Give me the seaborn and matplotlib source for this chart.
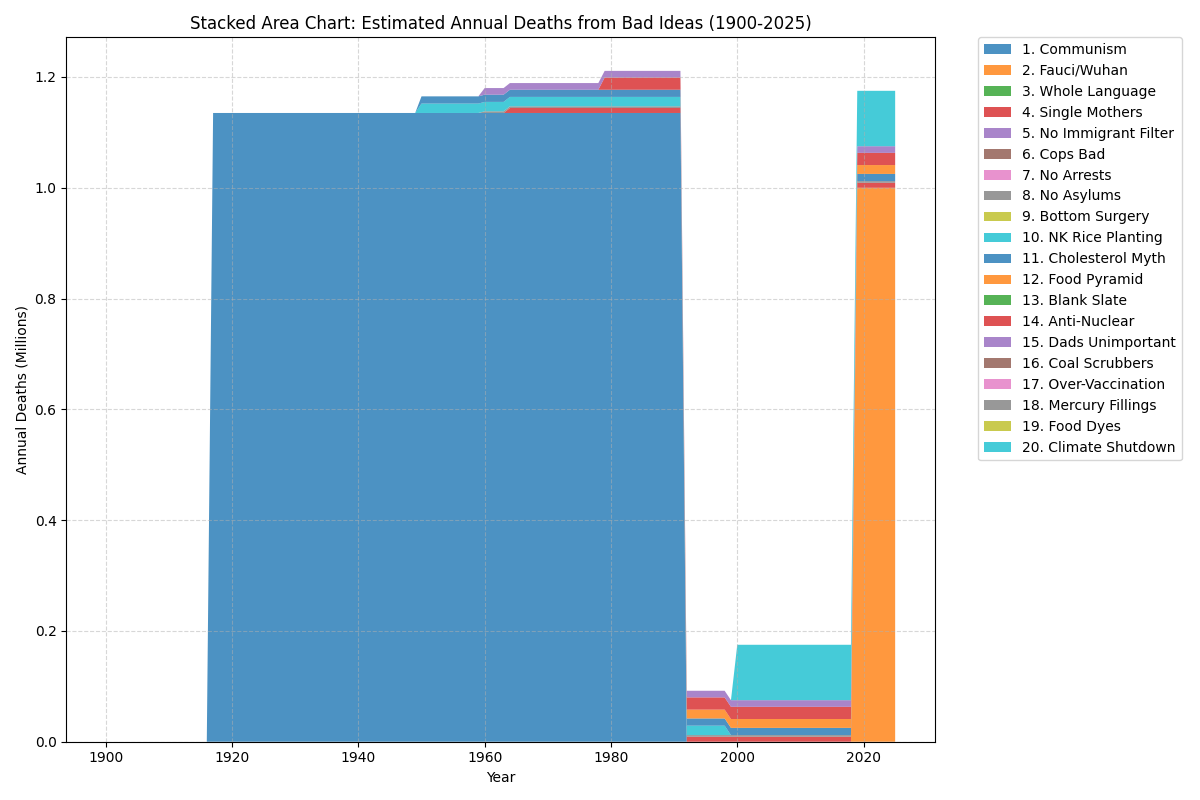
import numpy as np
import seaborn as sns
import matplotlib
matplotlib.use("Agg")
import matplotlib.pyplot as plt

years = np.arange(1900, 2026)

labels = [
    "1. Communism", "2. Fauci/Wuhan", "3. Whole Language", "4. Single Mothers",
    "5. No Immigrant Filter", "6. Cops Bad", "7. No Arrests", "8. No Asylums",
    "9. Bottom Surgery", "10. NK Rice Planting", "11. Cholesterol Myth",
    "12. Food Pyramid", "13. Blank Slate", "14. Anti-Nuclear", "15. Dads Unimportant",
    "16. Coal Scrubbers", "17. Over-Vaccination", "18. Mercury Fillings",
    "19. Food Dyes", "20. Climate Shutdown",
]

# (first year, last year, deaths in millions per year)
communism = [(1917, 1991, 1.135)]
fauci_wuhan = [(2019, 2025, 1.0)]
whole_language = []
single_mothers = [(1964, 2025, 0.009)]
no_immigrant_filter = []
cops_bad = []
no_arrests = []
no_asylums = [(1960, 2025, 0.003)]
bottom_surgery = []
nk_rice = [(1950, 1998, 0.017)]
cholesterol = [(1950, 2025, 0.013)]
food_pyramid = [(1992, 2025, 0.016)]
blank_slate = []
anti_nuclear = [(1979, 2025, 0.022)]
dads = [(1960, 2025, 0.012)]
coal_scrubbers = []
over_vaccination = []
mercury_fillings = []
food_dyes = []
climate = [(2000, 2025, 0.100)]

segments = [
    communism, fauci_wuhan, whole_language, single_mothers, no_immigrant_filter,
    cops_bad, no_arrests, no_asylums, bottom_surgery, nk_rice, cholesterol,
    food_pyramid, blank_slate, anti_nuclear, dads, coal_scrubbers,
    over_vaccination, mercury_fillings, food_dyes, climate,
]


def to_series(segs):
    s = np.zeros(len(years))
    for start, end, val in segs:
        s[(years >= start) & (years <= end)] = val
    return s


data = [to_series(s) for s in segments]
colors = sns.color_palette("tab10", 10) * 2

fig, ax = plt.subplots(figsize=(12, 8))
ax.stackplot(years, *data, labels=labels, colors=colors, alpha=0.8)
ax.set_title("Stacked Area Chart: Estimated Annual Deaths from Bad Ideas (1900-2025)")
ax.set_xlabel("Year")
ax.set_ylabel("Annual Deaths (Millions)")
ax.grid(True, linestyle="--", alpha=0.5)
ax.legend(loc="upper left", bbox_to_anchor=(1.05, 1), borderaxespad=0)
plt.tight_layout()
plt.savefig("out.png", dpi=100)
